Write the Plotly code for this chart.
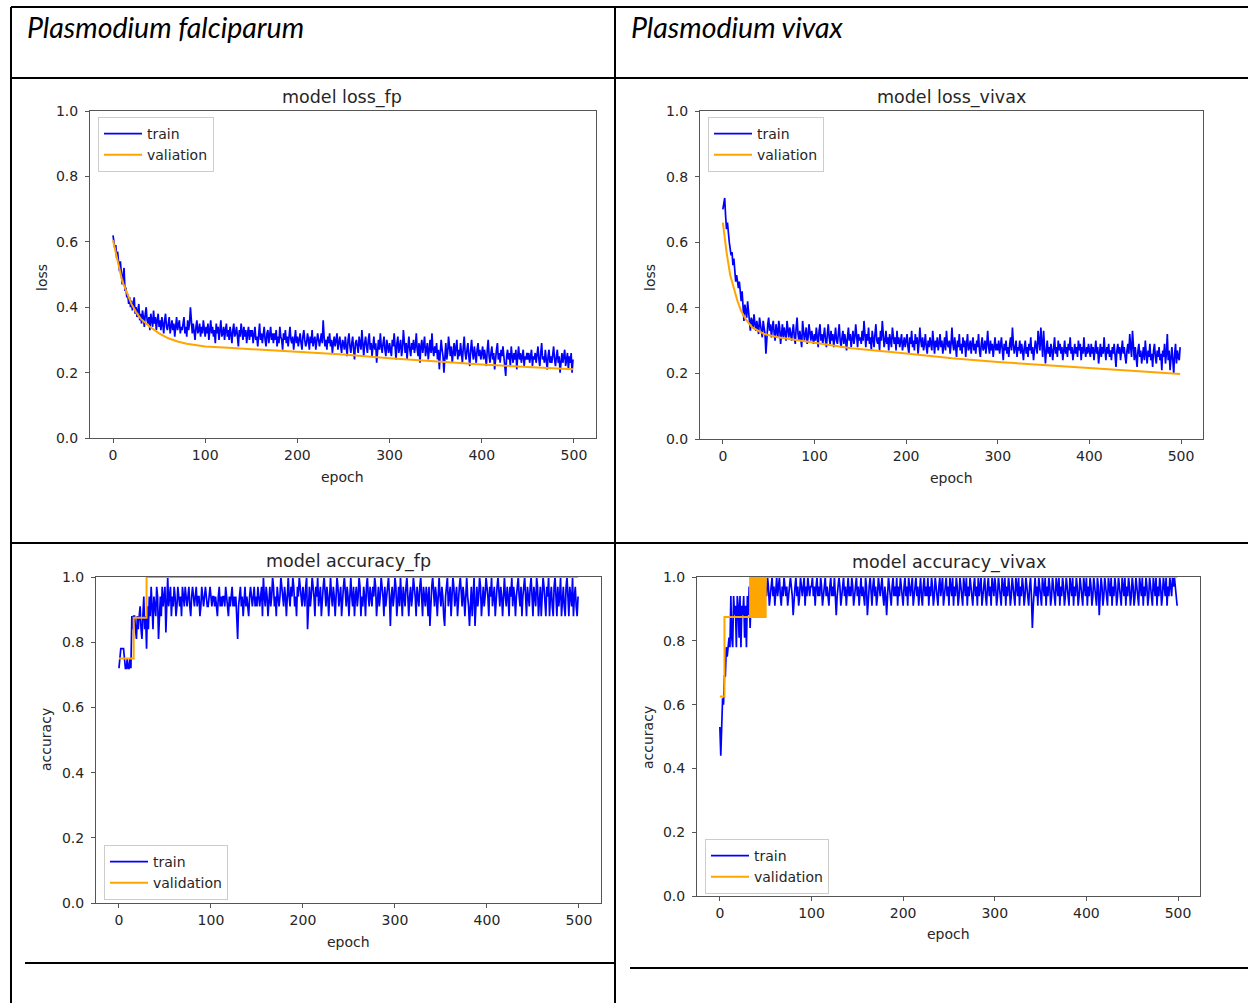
import plotly.graph_objects as go

W, H = 1248, 1003

# ---------------- data (one value per epoch, 0..499) ----------------
LOSS_FP_TRAIN = [
    0.62, 0.60, 0.58, 0.59, 0.55, 0.57, 0.53, 0.51, 0.54, 0.49, 0.47, 0.50, 0.52, 0.45, 0.46, 0.43, 0.44, 0.41, 0.43, 0.40, 0.42, 0.39, 0.41, 0.43, 0.38,
    0.40, 0.37, 0.39, 0.41, 0.36, 0.38, 0.35, 0.39, 0.37, 0.34, 0.38, 0.40, 0.36, 0.35, 0.37, 0.33, 0.38, 0.36, 0.34, 0.39, 0.35, 0.37, 0.33, 0.36, 0.38,
    0.34, 0.36, 0.33, 0.37, 0.35, 0.32, 0.36, 0.38, 0.34, 0.33, 0.35, 0.37, 0.32, 0.34, 0.36, 0.33, 0.35, 0.31, 0.34, 0.37, 0.33, 0.35, 0.36, 0.32, 0.34,
    0.33, 0.35, 0.37, 0.32, 0.34, 0.31, 0.36, 0.33, 0.35, 0.40, 0.34, 0.32, 0.35, 0.33, 0.30, 0.34, 0.36, 0.32, 0.33, 0.35, 0.31, 0.34, 0.32, 0.36, 0.33,
    0.31, 0.34, 0.32, 0.35, 0.30, 0.33, 0.36, 0.32, 0.34, 0.31, 0.33, 0.29, 0.35, 0.32, 0.34, 0.30, 0.33, 0.36, 0.31, 0.32, 0.34, 0.30, 0.33, 0.35, 0.31,
    0.33, 0.30, 0.34, 0.32, 0.29, 0.33, 0.35, 0.31, 0.32, 0.34, 0.30, 0.28, 0.33, 0.31, 0.35, 0.32, 0.30, 0.34, 0.31, 0.33, 0.29, 0.32, 0.34, 0.30, 0.33,
    0.31, 0.33, 0.29, 0.32, 0.34, 0.30, 0.31, 0.28, 0.33, 0.35, 0.30, 0.32, 0.29, 0.31, 0.34, 0.30, 0.28, 0.32, 0.33, 0.29, 0.31, 0.34, 0.30, 0.32, 0.29,
    0.32, 0.30, 0.33, 0.28, 0.31, 0.29, 0.34, 0.31, 0.30, 0.27, 0.32, 0.30, 0.33, 0.29, 0.31, 0.28, 0.32, 0.34, 0.30, 0.29, 0.31, 0.27, 0.30, 0.33, 0.29,
    0.31, 0.28, 0.30, 0.32, 0.29, 0.27, 0.31, 0.33, 0.30, 0.28, 0.29, 0.32, 0.30, 0.27, 0.31, 0.29, 0.33, 0.28, 0.30, 0.31, 0.27, 0.29, 0.32, 0.30, 0.28,
    0.30, 0.32, 0.29, 0.36, 0.31, 0.28, 0.30, 0.27, 0.31, 0.29, 0.32, 0.28, 0.30, 0.26, 0.29, 0.31, 0.28, 0.30, 0.32, 0.27, 0.29, 0.31, 0.28, 0.26, 0.30,
    0.29, 0.27, 0.31, 0.28, 0.25, 0.30, 0.32, 0.28, 0.26, 0.29, 0.31, 0.27, 0.24, 0.29, 0.30, 0.28, 0.26, 0.31, 0.29, 0.27, 0.33, 0.28, 0.25, 0.29, 0.31,
    0.28, 0.26, 0.30, 0.32, 0.27, 0.29, 0.25, 0.28, 0.31, 0.27, 0.29, 0.23, 0.28, 0.30, 0.27, 0.32, 0.28, 0.26, 0.29, 0.31, 0.27, 0.25, 0.30, 0.28, 0.26,
    0.29, 0.27, 0.25, 0.30, 0.28, 0.32, 0.27, 0.24, 0.29, 0.31, 0.26, 0.28, 0.30, 0.25, 0.27, 0.33, 0.28, 0.26, 0.29, 0.24, 0.28, 0.31, 0.27, 0.25, 0.29,
    0.27, 0.30, 0.26, 0.28, 0.32, 0.27, 0.25, 0.29, 0.23, 0.28, 0.30, 0.26, 0.28, 0.31, 0.25, 0.27, 0.29, 0.24, 0.28, 0.30, 0.26, 0.32, 0.27, 0.25, 0.28,
    0.26, 0.29, 0.24, 0.27, 0.21, 0.26, 0.30, 0.27, 0.25, 0.20, 0.27, 0.29, 0.24, 0.26, 0.31, 0.27, 0.25, 0.28, 0.23, 0.26, 0.29, 0.25, 0.27, 0.30, 0.24,
    0.27, 0.25, 0.29, 0.26, 0.23, 0.28, 0.31, 0.26, 0.24, 0.27, 0.29, 0.25, 0.22, 0.27, 0.30, 0.26, 0.24, 0.28, 0.26, 0.23, 0.27, 0.29, 0.25, 0.27, 0.24,
    0.26, 0.28, 0.24, 0.27, 0.25, 0.22, 0.27, 0.30, 0.25, 0.23, 0.26, 0.28, 0.24, 0.26, 0.21, 0.25, 0.27, 0.29, 0.24, 0.26, 0.23, 0.27, 0.25, 0.28, 0.24,
    0.22, 0.19, 0.25, 0.27, 0.24, 0.26, 0.22, 0.28, 0.25, 0.23, 0.26, 0.24, 0.27, 0.21, 0.25, 0.28, 0.24, 0.26, 0.23, 0.25, 0.27, 0.22, 0.25, 0.24, 0.26,
    0.24, 0.26, 0.23, 0.25, 0.27, 0.22, 0.25, 0.24, 0.26, 0.23, 0.25, 0.28, 0.24, 0.22, 0.26, 0.29, 0.24, 0.25, 0.23, 0.27, 0.24, 0.21, 0.25, 0.27, 0.23,
    0.25, 0.23, 0.26, 0.28, 0.24, 0.22, 0.25, 0.27, 0.23, 0.25, 0.20, 0.24, 0.26, 0.23, 0.25, 0.27, 0.22, 0.24, 0.26, 0.21, 0.25, 0.23, 0.26, 0.20, 0.24,
]
LOSS_FP_VAL_EPOCHS = [0, 5, 10, 15, 20, 25, 30, 40, 50, 60, 70, 80, 100, 125, 150, 175, 200, 250, 300, 350, 400, 450, 499]
LOSS_FP_VAL = [0.605, 0.54, 0.48, 0.445, 0.41, 0.385, 0.365, 0.34, 0.32, 0.305, 0.295, 0.288, 0.28, 0.276, 0.272, 0.268, 0.264, 0.255, 0.244, 0.234, 0.225, 0.217, 0.21]

LOSS_VIVAX_TRAIN = [
    0.70, 0.72, 0.735, 0.68, 0.64, 0.66, 0.62, 0.60, 0.58, 0.56, 0.57, 0.53, 0.55, 0.51, 0.48, 0.50, 0.47, 0.46, 0.48, 0.44, 0.42, 0.45, 0.40, 0.36, 0.41,
    0.39, 0.37, 0.42, 0.38, 0.35, 0.33, 0.37, 0.36, 0.34, 0.38, 0.35, 0.33, 0.36, 0.34, 0.32, 0.37, 0.35, 0.33, 0.31, 0.36, 0.34, 0.32, 0.26, 0.33, 0.35,
    0.37, 0.33, 0.35, 0.31, 0.34, 0.36, 0.32, 0.30, 0.35, 0.33, 0.31, 0.36, 0.34, 0.29, 0.33, 0.35, 0.31, 0.34, 0.32, 0.30, 0.36, 0.33, 0.31, 0.34, 0.32,
    0.30, 0.33, 0.35, 0.31, 0.29, 0.34, 0.37, 0.32, 0.30, 0.33, 0.31, 0.28, 0.36, 0.33, 0.30, 0.32, 0.34, 0.29, 0.31, 0.35, 0.32, 0.30, 0.33, 0.31, 0.29,
    0.32, 0.30, 0.34, 0.31, 0.28, 0.33, 0.35, 0.30, 0.32, 0.29, 0.31, 0.34, 0.30, 0.28, 0.32, 0.35, 0.31, 0.29, 0.33, 0.30, 0.32, 0.28, 0.31, 0.34, 0.30,
    0.29, 0.32, 0.35, 0.30, 0.28, 0.31, 0.33, 0.29, 0.32, 0.30, 0.27, 0.31, 0.34, 0.30, 0.32, 0.28, 0.30, 0.33, 0.29, 0.31, 0.35, 0.30, 0.28, 0.32, 0.30,
    0.31, 0.29, 0.33, 0.30, 0.36, 0.31, 0.28, 0.32, 0.30, 0.34, 0.29, 0.31, 0.27, 0.33, 0.30, 0.28, 0.32, 0.35, 0.30, 0.29, 0.31, 0.27, 0.33, 0.30, 0.36,
    0.31, 0.28, 0.30, 0.33, 0.29, 0.31, 0.27, 0.32, 0.30, 0.28, 0.34, 0.30, 0.29, 0.31, 0.27, 0.33, 0.29, 0.31, 0.28, 0.30, 0.32, 0.27, 0.29, 0.31, 0.28,
    0.30, 0.32, 0.28, 0.26, 0.31, 0.29, 0.33, 0.28, 0.30, 0.27, 0.32, 0.29, 0.31, 0.26, 0.29, 0.34, 0.30, 0.28, 0.31, 0.27, 0.29, 0.32, 0.28, 0.26, 0.30,
    0.28, 0.31, 0.29, 0.27, 0.33, 0.29, 0.26, 0.30, 0.28, 0.31, 0.27, 0.29, 0.32, 0.28, 0.30, 0.26, 0.29, 0.31, 0.27, 0.33, 0.29, 0.28, 0.30, 0.26, 0.29,
    0.34, 0.29, 0.27, 0.31, 0.28, 0.25, 0.30, 0.28, 0.32, 0.27, 0.29, 0.26, 0.31, 0.28, 0.30, 0.25, 0.29, 0.32, 0.27, 0.28, 0.30, 0.26, 0.29, 0.31, 0.27,
    0.29, 0.26, 0.30, 0.28, 0.32, 0.27, 0.25, 0.29, 0.31, 0.27, 0.28, 0.30, 0.26, 0.29, 0.33, 0.28, 0.26, 0.30, 0.27, 0.29, 0.25, 0.28, 0.31, 0.27, 0.29,
    0.27, 0.30, 0.26, 0.28, 0.31, 0.27, 0.24, 0.29, 0.27, 0.30, 0.26, 0.28, 0.25, 0.29, 0.31, 0.27, 0.34, 0.29, 0.26, 0.28, 0.30, 0.25, 0.28, 0.27, 0.30,
    0.26, 0.29, 0.27, 0.24, 0.28, 0.30, 0.26, 0.28, 0.25, 0.29, 0.27, 0.31, 0.26, 0.28, 0.24, 0.27, 0.30, 0.28, 0.26, 0.33, 0.29, 0.27, 0.34, 0.28, 0.25,
    0.33, 0.29, 0.23, 0.27, 0.30, 0.26, 0.28, 0.25, 0.29, 0.27, 0.24, 0.28, 0.31, 0.26, 0.28, 0.25, 0.30, 0.27, 0.29, 0.26, 0.28, 0.24, 0.27, 0.30, 0.26,
    0.28, 0.25, 0.29, 0.27, 0.31, 0.26, 0.28, 0.24, 0.27, 0.29, 0.26, 0.28, 0.25, 0.30, 0.27, 0.29, 0.24, 0.28, 0.26, 0.31, 0.27, 0.25, 0.28, 0.26, 0.29,
    0.27, 0.25, 0.29, 0.26, 0.28, 0.24, 0.27, 0.30, 0.26, 0.28, 0.23, 0.27, 0.29, 0.25, 0.28, 0.26, 0.31, 0.27, 0.24, 0.28, 0.26, 0.29, 0.25, 0.27, 0.24,
    0.28, 0.26, 0.29, 0.25, 0.22, 0.27, 0.29, 0.26, 0.28, 0.24, 0.27, 0.30, 0.26, 0.28, 0.25, 0.23, 0.27, 0.29, 0.26, 0.32, 0.28, 0.25, 0.33, 0.27, 0.24,
    0.28, 0.25, 0.22, 0.27, 0.29, 0.25, 0.27, 0.23, 0.26, 0.28, 0.24, 0.30, 0.26, 0.23, 0.27, 0.25, 0.29, 0.24, 0.26, 0.22, 0.27, 0.29, 0.25, 0.23, 0.27,
    0.25, 0.28, 0.24, 0.26, 0.21, 0.27, 0.25, 0.29, 0.23, 0.26, 0.32, 0.24, 0.27, 0.21, 0.25, 0.28, 0.24, 0.20, 0.26, 0.29, 0.23, 0.27, 0.25, 0.24, 0.28,
]
LOSS_VIVAX_VAL_EPOCHS = [0, 4, 8, 12, 16, 20, 25, 32, 45, 60, 85, 140, 195, 250, 300, 350, 400, 450, 499]
LOSS_VIVAX_VAL = [0.66, 0.57, 0.50, 0.46, 0.42, 0.39, 0.365, 0.34, 0.32, 0.31, 0.30, 0.277, 0.262, 0.246, 0.235, 0.225, 0.215, 0.207, 0.198]

ACC_FP_TRAIN = [
    0.72, 0.75, 0.78, 0.78, 0.78, 0.78, 0.75, 0.72, 0.72, 0.75, 0.72, 0.72, 0.75, 0.72, 0.88, 0.84, 0.88, 0.88, 0.84, 0.81, 0.88, 0.84, 0.88, 0.91, 0.84,
    0.81, 0.88, 0.94, 0.84, 0.88, 0.78, 0.91, 0.84, 0.94, 0.88, 0.97, 0.91, 0.84, 0.94, 0.91, 0.88, 0.97, 0.94, 0.81, 0.91, 0.94, 0.88, 0.97, 0.91, 0.94,
    0.97, 0.83, 0.94, 1.00, 0.91, 0.94, 0.97, 0.88, 0.94, 0.91, 0.97, 0.94, 0.88, 0.91, 0.97, 0.94, 0.91, 0.94, 0.88, 0.97, 0.94, 0.91, 0.97, 0.94, 0.91,
    0.94, 0.97, 0.91, 0.88, 0.94, 0.97, 0.94, 0.91, 0.94, 0.97, 0.91, 0.94, 0.94, 0.88, 0.91, 0.97, 0.94, 0.91, 0.94, 0.97, 0.94, 0.91, 0.91, 0.94, 0.97,
    0.94, 0.91, 0.94, 0.94, 0.91, 0.94, 0.91, 0.88, 0.94, 0.97, 0.91, 0.94, 0.91, 0.94, 0.94, 0.91, 0.97, 0.94, 0.91, 0.88, 0.94, 0.91, 0.94, 0.97, 0.91,
    0.94, 0.91, 0.94, 0.88, 0.81, 0.91, 0.94, 0.97, 0.91, 0.94, 0.88, 0.94, 0.97, 0.91, 0.94, 0.91, 0.88, 0.94, 0.97, 0.94, 0.91, 0.94, 0.97, 0.91, 0.94,
    0.91, 0.97, 0.94, 0.91, 0.94, 0.97, 0.88, 1.00, 0.94, 0.91, 0.97, 0.94, 0.88, 0.94, 0.97, 0.91, 0.94, 1.00, 0.97, 0.91, 0.94, 0.88, 0.97, 0.94, 0.91,
    0.94, 1.00, 0.97, 0.94, 0.91, 0.97, 0.94, 0.88, 0.97, 1.00, 0.94, 0.91, 0.97, 0.94, 1.00, 0.97, 0.91, 0.94, 0.88, 0.97, 0.94, 1.00, 0.97, 0.94, 0.91,
    0.97, 0.94, 0.91, 0.97, 1.00, 0.84, 0.94, 0.97, 0.91, 0.94, 1.00, 0.97, 0.94, 0.88, 0.97, 0.94, 1.00, 0.91, 0.94, 0.97, 0.88, 0.94, 0.97, 1.00, 0.94,
    0.91, 0.97, 0.94, 0.88, 0.97, 1.00, 0.94, 0.91, 0.97, 0.94, 0.88, 0.94, 1.00, 0.97, 0.91, 0.94, 0.97, 0.88, 0.94, 0.97, 1.00, 0.94, 0.91, 0.97, 0.94,
    0.88, 0.97, 1.00, 0.94, 0.91, 0.97, 0.88, 0.94, 0.97, 0.91, 0.94, 1.00, 0.97, 0.88, 0.94, 0.91, 0.97, 0.94, 0.88, 0.97, 1.00, 0.94, 0.91, 0.97, 0.94,
    0.91, 0.97, 0.94, 1.00, 0.97, 0.88, 0.94, 0.97, 0.91, 0.94, 1.00, 0.97, 0.94, 0.88, 0.97, 0.91, 0.94, 0.97, 1.00, 0.94, 0.85, 0.94, 0.97, 0.91, 0.94,
    1.00, 0.97, 0.88, 0.94, 0.97, 0.91, 1.00, 0.94, 0.88, 0.97, 0.94, 0.91, 0.97, 1.00, 0.94, 0.88, 0.94, 0.97, 0.91, 0.94, 1.00, 0.97, 0.94, 0.88, 0.97,
    0.94, 0.91, 0.97, 1.00, 0.94, 0.88, 0.97, 0.94, 0.91, 0.97, 0.94, 0.88, 0.97, 0.85, 0.94, 0.97, 1.00, 0.94, 0.91, 0.97, 0.94, 0.88, 0.97, 1.00, 0.94,
    0.91, 0.97, 0.94, 0.88, 0.85, 0.94, 0.97, 1.00, 0.91, 0.94, 0.97, 0.88, 0.94, 1.00, 0.97, 0.91, 0.94, 0.97, 0.88, 0.94, 0.97, 1.00, 0.94, 0.91, 0.97,
    0.94, 0.88, 0.97, 1.00, 0.94, 0.91, 0.85, 0.94, 0.97, 0.88, 0.94, 1.00, 0.85, 0.94, 0.97, 0.91, 0.94, 1.00, 0.97, 0.88, 0.94, 0.97, 0.91, 0.94, 1.00,
    0.97, 0.94, 0.88, 0.97, 0.94, 1.00, 0.91, 0.94, 0.97, 0.88, 0.94, 0.97, 1.00, 0.94, 0.91, 0.97, 0.94, 0.88, 0.97, 1.00, 0.94, 0.91, 0.97, 0.94, 0.88,
    0.97, 0.94, 1.00, 0.91, 0.97, 0.94, 0.88, 0.94, 0.97, 1.00, 0.94, 0.91, 0.97, 0.88, 0.94, 0.97, 1.00, 0.94, 0.88, 0.97, 0.94, 0.91, 0.97, 1.00, 0.94,
    0.88, 0.97, 0.94, 0.91, 1.00, 0.97, 0.88, 0.94, 0.97, 0.88, 0.94, 1.00, 0.97, 0.91, 0.88, 0.97, 0.94, 1.00, 0.88, 0.94, 0.97, 0.91, 0.88, 0.97, 1.00,
    0.94, 0.88, 0.97, 0.91, 0.94, 1.00, 0.88, 0.94, 0.97, 0.91, 0.88, 0.97, 1.00, 0.94, 0.88, 0.97, 0.94, 0.91, 1.00, 0.88, 0.94, 0.97, 0.91, 0.88, 0.94,
]
ACC_FP_VAL_EPOCHS = [0, 16, 30, 499]
ACC_FP_VAL = [0.75, 0.875, 1.0, 1.0]

ACC_VIVAX_TRAIN = [
    0.53, 0.44, 0.53, 0.62, 0.60, 0.69, 0.69, 0.78, 0.75, 0.78, 0.81, 0.78, 0.94, 0.81, 0.78, 0.94, 0.88, 0.91, 0.78, 0.94, 0.91, 0.81, 0.94, 0.78, 0.91,
    0.88, 0.94, 0.81, 0.91, 0.78, 0.94, 0.88, 0.97, 0.84, 0.94, 1.00, 0.91, 0.88, 0.97, 1.00, 0.94, 0.88, 1.00, 0.97, 0.91, 0.94, 1.00, 0.97, 0.88, 0.94,
    0.97, 0.94, 1.00, 0.97, 0.91, 0.94, 0.97, 1.00, 0.94, 0.97, 0.91, 0.97, 1.00, 0.94, 0.97, 1.00, 0.94, 0.91, 0.97, 0.94, 1.00, 0.97, 0.94, 0.97, 0.91,
    0.94, 0.97, 1.00, 0.97, 0.94, 0.88, 0.94, 0.97, 1.00, 0.94, 0.97, 0.91, 0.94, 1.00, 0.97, 0.94, 0.97, 1.00, 0.91, 0.97, 0.94, 1.00, 0.97, 0.94, 0.97,
    0.97, 1.00, 0.94, 0.97, 0.91, 0.97, 1.00, 0.94, 0.97, 0.94, 1.00, 0.97, 0.91, 0.94, 0.97, 1.00, 0.94, 0.97, 0.94, 0.91, 0.97, 1.00, 0.94, 0.97, 0.94,
    1.00, 0.94, 0.88, 0.94, 0.97, 1.00, 0.97, 0.91, 0.94, 0.97, 1.00, 0.94, 0.97, 0.91, 0.97, 1.00, 0.94, 0.97, 0.94, 1.00, 0.97, 0.91, 0.94, 0.97, 1.00,
    0.94, 0.97, 0.91, 0.97, 1.00, 0.94, 0.97, 0.94, 0.91, 1.00, 0.97, 0.88, 0.94, 0.97, 1.00, 0.94, 0.91, 0.97, 1.00, 0.94, 0.97, 0.91, 0.94, 1.00, 0.97,
    0.94, 0.97, 1.00, 0.94, 0.91, 0.97, 0.94, 0.88, 0.94, 1.00, 0.97, 0.94, 0.91, 0.97, 1.00, 0.94, 0.97, 0.94, 1.00, 0.91, 0.97, 0.94, 1.00, 0.97, 0.94,
    0.91, 0.97, 1.00, 0.94, 0.97, 0.91, 1.00, 0.97, 0.94, 0.97, 1.00, 0.91, 0.94, 0.97, 1.00, 0.94, 0.97, 0.91, 0.97, 1.00, 0.94, 0.91, 0.97, 1.00, 0.94,
    0.97, 0.94, 1.00, 0.91, 0.97, 0.94, 1.00, 0.97, 0.91, 0.94, 1.00, 0.97, 0.94, 0.91, 0.97, 1.00, 0.94, 0.97, 1.00, 0.91, 0.94, 0.97, 1.00, 0.94, 0.97,
    0.91, 1.00, 0.97, 0.94, 1.00, 0.91, 0.97, 0.94, 1.00, 0.97, 0.91, 0.94, 1.00, 0.97, 0.94, 0.91, 1.00, 0.97, 0.94, 1.00, 0.91, 0.97, 0.94, 1.00, 0.97,
    0.94, 0.91, 0.97, 1.00, 0.94, 0.97, 0.91, 1.00, 0.94, 0.97, 1.00, 0.91, 0.94, 0.97, 1.00, 0.94, 0.91, 0.97, 1.00, 0.94, 0.97, 0.91, 1.00, 0.97, 0.94,
    1.00, 0.97, 0.91, 0.94, 1.00, 0.97, 0.94, 0.91, 1.00, 0.97, 0.94, 1.00, 0.91, 0.97, 0.94, 1.00, 0.97, 0.91, 0.94, 1.00, 0.97, 0.94, 0.91, 1.00, 0.97,
    0.94, 1.00, 0.91, 0.97, 0.94, 1.00, 0.97, 0.91, 0.94, 1.00, 0.97, 0.94, 0.91, 0.97, 1.00, 0.94, 0.84, 0.91, 0.97, 1.00, 0.94, 0.97, 0.91, 1.00, 0.97,
    0.94, 0.91, 1.00, 0.97, 0.94, 1.00, 0.91, 0.97, 0.94, 1.00, 0.97, 0.91, 0.94, 1.00, 0.97, 0.94, 0.91, 1.00, 0.97, 0.94, 1.00, 0.91, 0.97, 0.94, 1.00,
    0.97, 0.91, 0.94, 1.00, 0.97, 0.94, 0.91, 1.00, 0.97, 0.94, 1.00, 0.91, 0.97, 0.94, 1.00, 0.97, 0.91, 0.94, 1.00, 0.97, 0.94, 0.91, 1.00, 0.97, 0.94,
    1.00, 0.91, 0.97, 0.94, 1.00, 0.97, 0.91, 0.94, 1.00, 0.97, 0.94, 0.91, 1.00, 0.97, 0.88, 0.94, 1.00, 0.97, 0.91, 0.94, 1.00, 0.97, 0.94, 0.91, 1.00,
    0.97, 0.94, 1.00, 0.91, 0.97, 0.94, 1.00, 0.97, 0.91, 0.94, 1.00, 0.97, 0.94, 0.91, 1.00, 0.97, 0.94, 1.00, 0.91, 0.97, 0.94, 1.00, 0.97, 0.91, 0.94,
    1.00, 0.97, 0.91, 0.94, 1.00, 0.97, 0.94, 0.91, 1.00, 0.97, 0.94, 1.00, 0.91, 0.97, 0.94, 1.00, 0.97, 0.91, 0.94, 1.00, 0.97, 0.94, 0.91, 1.00, 0.97,
    0.94, 1.00, 0.91, 0.97, 0.94, 1.00, 0.97, 0.91, 0.94, 1.00, 0.97, 0.94, 1.00, 0.91, 0.97, 0.94, 1.00, 0.97, 0.94, 1.00, 0.97, 1.00, 0.97, 0.94, 0.91,
]
ACC_VIVAX_VAL_EPOCHS = [0, 5, 33, 34, 36, 37, 39, 40, 41, 42, 44, 45, 46, 47, 48, 49, 50, 499]
ACC_VIVAX_VAL = [0.625, 0.875, 1.0, 0.875, 1.0, 0.875, 1.0, 0.875, 1.0, 0.875, 1.0, 0.875, 1.0, 0.875, 1.0, 0.875, 1.0, 1.0]

HEADERS = ["Plasmodium falciparum", "Plasmodium vivax"]
TITLES = ["model loss_fp", "model loss_vivax", "model accuracy_fp", "model accuracy_vivax"]
YLABELS = ["loss", "loss", "accuracy", "accuracy"]
XLABEL = "epoch"
LEGEND_NAMES = [("train", "valiation"), ("train", "valiation"), ("train", "validation"), ("train", "validation")]
X_TICKS = [0, 100, 200, 300, 400, 500]
Y_TICKS = [0.0, 0.2, 0.4, 0.6, 0.8, 1.0]

# ---------------- layout helpers (pixel -> paper) ----------------
def px(x):
    return x / W

def py(y):
    return 1 - y / H

# axes boxes in pixels: (left, top, right, bottom)
BOXES = [(90, 111, 596, 438), (700, 111, 1203, 439), (96, 577, 601, 903), (697, 577, 1200, 896)]
TITLE_POS = [(342, 97), (951, 98), (348, 561), (949, 562)]
XLABEL_POS = [(342, 477), (951, 478), (348, 942), (948, 934)]
YLABEL_POS = [(42, 278), (650, 278), (46, 740), (648, 738)]
LEGEND_POS = [(98, 117), (708, 117), (104, 845), (705, 839)]

BLUE = "#0000ff"
ORANGE = "#ffa500"
TXT = "#262626"
SPINE = "#555555"
FONT = "DejaVu Sans"

series = [
    (LOSS_FP_TRAIN, LOSS_FP_VAL_EPOCHS, LOSS_FP_VAL, "linear"),
    (LOSS_VIVAX_TRAIN, LOSS_VIVAX_VAL_EPOCHS, LOSS_VIVAX_VAL, "linear"),
    (ACC_FP_TRAIN, ACC_FP_VAL_EPOCHS, ACC_FP_VAL, "hv"),
    (ACC_VIVAX_TRAIN, ACC_VIVAX_VAL_EPOCHS, ACC_VIVAX_VAL, "hv"),
]

fig = go.Figure()
layout = dict(
    width=W, height=H, autosize=False,
    margin=dict(l=0, r=0, t=0, b=0, pad=0, autoexpand=False),
    paper_bgcolor="white", plot_bgcolor="white",
    font=dict(family=FONT, size=13, color=TXT),
    hovermode=False,
)

annotations = []
shapes = []

for i, (train, vx, vy, shape) in enumerate(series):
    n = "" if i == 0 else str(i + 1)
    lg = "legend" if i == 0 else f"legend{i + 1}"
    l, t, r, b = BOXES[i]
    fig.add_trace(go.Scatter(
        x=list(range(len(train))), y=train, mode="lines", name=LEGEND_NAMES[i][0],
        line=dict(color=BLUE, width=1.7), xaxis="x" + n, yaxis="y" + n,
        legend=lg, legendgroup=f"t{i}",
    ))
    fig.add_trace(go.Scatter(
        x=vx, y=vy, mode="lines", name=LEGEND_NAMES[i][1],
        line=dict(color=ORANGE, width=2, shape=shape), xaxis="x" + n, yaxis="y" + n,
        legend=lg, legendgroup=f"v{i}",
    ))
    axis_common = dict(
        showline=True, linecolor=SPINE, linewidth=1, mirror=True,
        ticks="outside", ticklen=4, tickcolor=SPINE, tickwidth=1,
        showgrid=False, zeroline=False, automargin=False,
        tickfont=dict(family=FONT, size=14, color=TXT),
    )
    layout["xaxis" + n] = dict(
        axis_common, domain=[px(l), px(r)], range=[-24.95, 523.95],
        tickvals=X_TICKS, ticktext=[str(v) for v in X_TICKS],
        anchor="y" + n,
    )
    layout["yaxis" + n] = dict(
        axis_common, domain=[py(b), py(t)], range=[0, 1],
        tickvals=Y_TICKS, ticktext=[f"{v:.1f}" for v in Y_TICKS],
        anchor="x" + n, ticklabelstandoff=4,
    )
    layout[lg] = dict(
        x=px(LEGEND_POS[i][0]), y=py(LEGEND_POS[i][1]), xanchor="left", yanchor="top",
        xref="paper", yref="paper",
        bgcolor="rgba(255,255,255,0.8)", bordercolor="#cccccc", borderwidth=1,
        font=dict(family=FONT, size=14, color=TXT),
        traceorder="grouped", tracegroupgap=0, itemwidth=38,
    )
    annotations.append(dict(text=TITLES[i], x=px(TITLE_POS[i][0]), y=py(TITLE_POS[i][1]),
                            xref="paper", yref="paper", showarrow=False,
                            xanchor="center", yanchor="middle",
                            font=dict(family=FONT, size=17.5, color=TXT)))
    annotations.append(dict(text=XLABEL, x=px(XLABEL_POS[i][0]), y=py(XLABEL_POS[i][1]),
                            xref="paper", yref="paper", showarrow=False,
                            xanchor="center", yanchor="middle",
                            font=dict(family=FONT, size=14, color=TXT)))
    annotations.append(dict(text=YLABELS[i], x=px(YLABEL_POS[i][0]), y=py(YLABEL_POS[i][1]),
                            xref="paper", yref="paper", showarrow=False, textangle=-90,
                            xanchor="center", yanchor="middle",
                            font=dict(family=FONT, size=14, color=TXT)))

# header texts
for text, (hx, hy) in zip(HEADERS, [(25, 27), (629, 27)]):
    annotations.append(dict(text=text, x=px(hx), y=py(hy), xref="paper", yref="paper",
                            showarrow=False, xanchor="left", yanchor="middle",
                            font=dict(family="Lato", size=28.5, color="#000000",
                                      style="italic", weight=400)))

# table rules
LINES = [
    (11, 7, 1248, 7), (11, 78, 1248, 78), (11, 543, 1248, 543),
    (11, 7, 11, 1003), (615, 7, 615, 1003),
    (25, 963, 615, 963), (630, 968, 1248, 968),
]
for x0, y0, x1, y1 in LINES:
    shapes.append(dict(type="line", xref="paper", yref="paper",
                       x0=px(x0), y0=py(y0), x1=px(x1), y1=py(y1),
                       line=dict(color="#000000", width=2)))

layout["annotations"] = annotations
layout["shapes"] = shapes
fig.update_layout(**layout)

fig.write_html("out.html", config={"displayModeBar": False},
               post_script="document.body.style.margin='0';document.body.style.overflow='hidden';")
